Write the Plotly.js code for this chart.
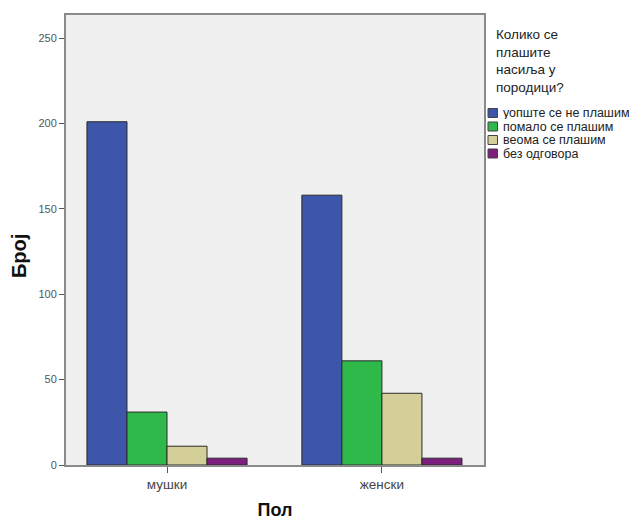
<!DOCTYPE html>
<html>
<head>
<meta charset="utf-8">
<script src="https://cdn.plot.ly/plotly-3.0.1.min.js"></script>
<style>html,body{margin:0;padding:0;background:#fff;}#chart{width:641px;height:520px;}</style>
</head>
<body>
<div id="chart"></div>
<script>
var categories = ["мушки", "женски"];
var seriesNames = ["уопште се не плашим", "помало се плашим", "веома се плашим", "без одговора"];
var valuesNotAfraid = [201, 158];
var valuesSomewhat = [31, 61];
var valuesVery = [11, 42];
var valuesNoAnswer = [4, 4];
var seriesColors = ["#3d56aa", "#2fb94b", "#d4cf98", "#7d1f7c"];
var yTicks = [0, 50, 100, 150, 200, 250];
var legendTitle = "Колико се<br>плашите<br>насиља у<br>породици?";
var xTitle = "Пол";
var yTitle = "Број";

var W = 641, H = 520;
var M = {l: 66, r: 157, t: 15, b: 55};
var plotW = W - M.l - M.r, plotH = H - M.t - M.b;
function px(x) { return (x - M.l) / plotW; }
function py(y) { return (H - M.b - y) / plotH; }

var allValues = [valuesNotAfraid, valuesSomewhat, valuesVery, valuesNoAnswer];
var data = allValues.map(function (vals, i) {
  return {
    type: "bar",
    x: categories,
    y: vals,
    name: seriesNames[i],
    marker: {color: seriesColors[i], line: {color: "#2a2a2a", width: 1}},
    hoverinfo: "none",
    showlegend: false
  };
});

// custom legend (compact, like the original)
var shapes = [], annotations = [];
var legTop = 113, legStep = 13.5;
seriesNames.forEach(function (name, i) {
  var cy = legTop + i * legStep;
  shapes.push({type: "rect", xref: "paper", yref: "paper",
    x0: px(488), x1: px(497.5), y0: py(cy - 4.5), y1: py(cy + 4.5),
    fillcolor: seriesColors[i], line: {color: "#444", width: 1}});
  annotations.push({xref: "paper", yref: "paper", x: px(502), y: py(cy),
    xanchor: "left", yanchor: "middle", showarrow: false, text: name,
    height: 12, valign: "middle", borderpad: 0,
    font: {size: 12.5, color: "#222", family: "Liberation Sans, Arial, sans-serif"}});
});
annotations.push({xref: "paper", yref: "paper", x: px(494), y: py(61),
  xanchor: "left", yanchor: "middle", align: "left", showarrow: false, text: legendTitle,
  font: {size: 13.5, color: "#222", family: "Liberation Sans, Arial, sans-serif"}});
// y axis title, placed like the original (slightly below the plot centre)
annotations.push({xref: "paper", yref: "paper", x: px(19), y: py(256),
  xanchor: "center", yanchor: "middle", textangle: -90, showarrow: false,
  text: "<b>" + yTitle + "</b>",
  font: {size: 20, color: "#111", family: "Liberation Sans, Arial, sans-serif"}});

var layout = {
  width: W, height: H,
  margin: M,
  paper_bgcolor: "#ffffff",
  plot_bgcolor: "#f0f0f0",
  barmode: "group",
  bargap: 0.255,
  bargroupgap: 0,
  font: {family: "Liberation Sans, Arial, sans-serif", color: "#333"},
  xaxis: {
    range: [-0.47, 1.475],
    showline: true, linecolor: "#8a8a8a", linewidth: 2, mirror: true,
    ticks: "outside", ticklen: 6, tickcolor: "#555", tickwidth: 1,
    tickfont: {size: 13.5, color: "#444"},
    showgrid: false, zeroline: false,
    title: {text: "<b>" + xTitle + "</b>", font: {size: 18, color: "#111"}, standoff: 18}
  },
  yaxis: {
    range: [0, 263.5],
    tickvals: yTicks,
    showline: true, linecolor: "#8a8a8a", linewidth: 2, mirror: true,
    ticks: "outside", ticklen: 5, tickcolor: "#555", tickwidth: 1,
    tickfont: {size: 11, color: "#555"},
    showgrid: false, zeroline: false
  },
  shapes: shapes,
  annotations: annotations,
  showlegend: false
};

Plotly.newPlot("chart", data, layout, {displayModeBar: false, staticPlot: true});
</script>
</body>
</html>
